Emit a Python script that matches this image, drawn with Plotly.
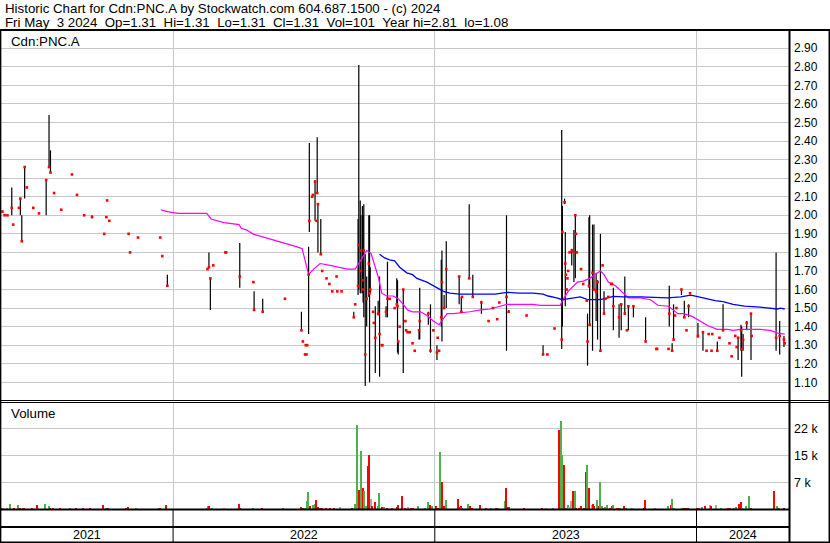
import plotly.graph_objects as go
import pandas as pd

# ---------------- data ----------------
x_range = ["2021-05-06", "2024-05-09"]
year_starts = ["2022-01-01", "2023-01-01", "2024-01-01"]
year_labels = ["2021", "2022", "2023", "2024"]

price_tickvals = [1.1, 1.2, 1.3, 1.4, 1.5, 1.6, 1.7, 1.8, 1.9, 2.0,
                  2.1, 2.2, 2.3, 2.4, 2.5, 2.6, 2.7, 2.8, 2.9]
price_ticktext = ["1.10", "1.20", "1.30", "1.40", "1.50", "1.60", "1.70", "1.80", "1.90", "2.00",
                  "2.10", "2.20", "2.30", "2.40", "2.50", "2.60", "2.70", "2.80", "2.90"]
vol_tickvals = [7333, 14667, 22000]
vol_ticktext = ["7 k", "15 k", "22 k"]

# days with a trading range (high / low / close)
bar_dates = [
    "2021-05-21", "2021-06-02", "2021-06-04", "2021-06-08", "2021-07-08", "2021-07-12", "2021-07-14", "2021-09-10", "2021-12-24",
    "2022-02-20", "2022-02-22", "2022-04-04", "2022-04-24", "2022-05-06", "2022-06-29", "2022-07-09", "2022-07-10",
    "2022-07-18", "2022-07-21", "2022-07-22", "2022-07-26", "2022-09-10", "2022-09-16", "2022-09-17", "2022-09-19",
    "2022-09-20", "2022-09-22", "2022-09-23", "2022-09-24", "2022-09-26", "2022-09-28", "2022-10-01", "2022-10-02",
    "2022-10-03", "2022-10-10", "2022-10-14", "2022-10-16", "2022-10-25", "2022-10-27", "2022-11-09", "2022-11-10",
    "2022-11-11", "2022-11-18", "2022-12-10", "2022-12-11", "2022-12-23", "2022-12-26",
    "2023-01-04", "2023-01-10", "2023-01-11", "2023-01-14", "2023-01-17", "2023-02-04", "2023-02-07", "2023-02-18",
    "2023-02-23", "2023-03-07", "2023-04-11", "2023-04-14", "2023-06-01", "2023-06-27", "2023-06-28", "2023-07-01",
    "2023-07-02", "2023-07-11", "2023-07-14", "2023-07-16", "2023-08-02", "2023-08-04", "2023-08-05", "2023-08-09",
    "2023-08-11", "2023-08-14", "2023-08-16", "2023-08-20", "2023-08-25", "2023-09-07", "2023-09-15", "2023-09-18",
    "2023-09-23", "2023-09-28", "2023-10-05", "2023-10-22", "2023-11-24", "2023-11-28", "2023-11-30", "2023-12-11",
    "2023-12-15", "2023-12-21",
    "2024-01-03", "2024-01-10", "2024-01-30", "2024-02-07", "2024-02-28", "2024-03-03", "2024-03-04", "2024-03-06",
    "2024-03-11", "2024-03-17", "2024-04-21", "2024-04-26", "2024-05-02",
]
bar_high = [
    2.15, 2.09, 2.00, 2.26, 2.19, 2.54, 2.35, 2.00, 1.68,
    1.80, 1.66, 1.85, 1.59, 1.55, 1.48, 1.83, 2.39,
    2.19, 2.42, 2.06, 1.98, 1.48, 1.98, 2.81, 2.08,
    2.00, 2.05, 2.00, 2.06, 1.79, 1.67, 2.00, 2.00,
    1.72, 1.51, 1.54, 1.67, 1.51, 1.75, 1.66, 1.65,
    1.32, 1.60, 1.38, 1.61, 1.48, 1.52,
    1.30, 1.76, 1.81, 1.57, 1.86, 1.67, 1.56, 2.06,
    1.68, 1.54, 2.00, 1.49, 1.30, 2.46, 2.05, 2.09,
    1.91, 1.82, 1.92, 2.00, 1.47, 1.99, 2.00, 1.95,
    1.95, 1.69, 1.65, 1.90, 1.59, 1.61, 1.52, 1.52,
    1.67, 1.51, 1.51, 1.45, 1.62, 1.31, 1.52, 1.60,
    1.54, 1.52,
    1.42, 1.37, 1.32, 1.52, 1.34, 1.41, 1.40, 1.36,
    1.43, 1.47, 1.80, 1.43, 1.35,
]
bar_low = [
    2.00, 2.00, 1.86, 2.09, 2.00, 2.26, 2.23, 1.99, 1.62,
    1.72, 1.49, 1.61, 1.49, 1.48, 1.38, 1.36, 1.91,
    1.97, 2.12, 1.80, 1.79, 1.45, 1.57, 1.60, 1.58,
    1.58, 1.58, 1.53, 1.45, 1.08, 1.40, 1.56, 1.10,
    1.58, 1.15, 1.46, 1.13, 1.45, 1.45, 1.52, 1.26,
    1.25, 1.15, 1.33, 1.33, 1.41, 1.26,
    1.22, 1.40, 1.32, 1.50, 1.50, 1.52, 1.48, 1.66,
    1.56, 1.47, 1.27, 1.48, 1.25, 1.28, 1.40, 2.06,
    1.51, 1.73, 1.64, 1.66, 1.19, 1.61, 1.41, 1.27,
    1.60, 1.43, 1.33, 1.27, 1.47, 1.38, 1.34, 1.38,
    1.47, 1.38, 1.45, 1.32, 1.40, 1.27, 1.33, 1.57,
    1.45, 1.45,
    1.34, 1.27, 1.27, 1.38, 1.22, 1.27, 1.13, 1.27,
    1.38, 1.22, 1.27, 1.25, 1.29,
]
bar_close = [
    2.04, 2.09, 1.86, 2.26, 2.19, 2.26, 2.23, 1.99, 1.62,
    1.72, 1.66, 1.67, 1.49, 1.48, 1.38, 1.68, 1.97,
    2.18, 2.12, 2.06, 1.79, 1.45, 1.62, 1.84, 1.81,
    1.70, 1.65, 1.60, 1.81, 1.25, 1.55, 1.74, 1.58,
    1.60, 1.34, 1.47, 1.36, 1.48, 1.55, 1.52, 1.51,
    1.32, 1.60, 1.38, 1.43, 1.47, 1.27,
    1.26, 1.45, 1.64, 1.50, 1.71, 1.67, 1.48, 1.66,
    1.56, 1.53, 1.56, 1.48, 1.25, 1.33, 1.91, 2.07,
    1.74, 1.81, 1.80, 2.00, 1.32, 1.62, 1.41, 1.69,
    1.60, 1.59, 1.64, 1.27, 1.47, 1.51, 1.45, 1.52,
    1.47, 1.51, 1.51, 1.32, 1.47, 1.27, 1.33, 1.60,
    1.45, 1.51,
    1.35, 1.37, 1.27, 1.38, 1.34, 1.38, 1.28, 1.33,
    1.42, 1.47, 1.34, 1.35, 1.33,
]

# days that traded at a single price
dot_dates = [
    "2021-05-08", "2021-05-11", "2021-05-15", "2021-05-23", "2021-05-31", "2021-06-11", "2021-06-20", "2021-06-28",
    "2021-07-19", "2021-07-29", "2021-08-13", "2021-08-20", "2021-08-30", "2021-09-27", "2021-09-30", "2021-10-01",
    "2021-10-04", "2021-10-31", "2021-11-02", "2021-11-13", "2021-12-14", "2021-12-17",
    "2022-02-18", "2022-02-26", "2022-03-15", "2022-03-16", "2022-04-23", "2022-06-06", "2022-07-01", "2022-07-04",
    "2022-07-05", "2022-07-06", "2022-07-07", "2022-07-14", "2022-07-15", "2022-07-20", "2022-07-28", "2022-08-03",
    "2022-08-07", "2022-08-11", "2022-08-17", "2022-08-18", "2022-08-24", "2022-09-12", "2022-10-07", "2022-10-08",
    "2022-10-19", "2022-10-20", "2022-10-30", "2022-11-06", "2022-11-13", "2022-11-21", "2022-11-22", "2022-11-24",
    "2022-11-27", "2022-12-01", "2022-12-04", "2022-12-30",
    "2023-01-05", "2023-01-07", "2023-02-08", "2023-03-17", "2023-03-23", "2023-03-29", "2023-04-01", "2023-05-09",
    "2023-06-07", "2023-06-17", "2023-07-03", "2023-07-04", "2023-07-05", "2023-07-06", "2023-07-08", "2023-07-12",
    "2023-07-17", "2023-07-18", "2023-07-24", "2023-07-27", "2023-08-01", "2023-08-23", "2023-08-27", "2023-08-31",
    "2023-09-04", "2023-09-05", "2023-09-26", "2023-11-06", "2023-11-07", "2023-11-23", "2023-12-02", "2023-12-04",
    "2023-12-18", "2023-12-23",
    "2024-01-15", "2024-01-18", "2024-01-22", "2024-01-23", "2024-02-02", "2024-02-16", "2024-02-19", "2024-02-24",
    "2024-02-26", "2024-03-18", "2024-05-03",
]
dot_price = [
    2.02, 2.00, 2.00, 1.95, 2.04, 2.15, 2.04, 2.01,
    2.12, 2.03, 2.22, 2.11, 2.00, 1.90, 1.99, 2.08,
    1.97, 1.90, 1.80, 1.88, 1.88, 1.78,
    1.71, 1.73, 1.80, 1.80, 1.64, 1.55, 1.32, 1.25,
    1.30, 1.25, 1.30, 2.10, 2.11, 1.97, 1.70, 1.66,
    1.63, 1.59, 1.67, 1.59, 1.59, 1.52, 1.48, 1.42,
    1.30, 1.30, 1.55, 1.50, 1.40, 1.43, 1.38, 1.37,
    1.37, 1.31, 1.27, 1.38,
    1.34, 1.27, 1.56, 1.43, 1.50, 1.44, 1.53, 1.46,
    1.25, 1.39, 1.68, 1.60, 1.66, 1.70, 1.80, 1.81,
    1.90, 1.80, 1.71, 1.63, 1.54, 1.73, 1.55, 1.56,
    1.63, 1.63, 1.38, 1.28, 1.28, 1.28, 1.46, 1.50,
    1.38, 1.58,
    1.27, 1.36, 1.27, 1.36, 1.34, 1.31, 1.24, 1.35,
    1.29, 1.35, 1.31,
]

# moving averages
ma_fast_dates = [
    "2021-12-15", "2021-12-24", "2022-01-08", "2022-02-05", "2022-02-17", "2022-02-23", "2022-03-03", "2022-03-13",
    "2022-04-03", "2022-04-06", "2022-04-14", "2022-04-22", "2022-04-30", "2022-05-09", "2022-05-19", "2022-05-30",
    "2022-06-23", "2022-06-30", "2022-07-04", "2022-07-09", "2022-07-16", "2022-07-25", "2022-08-08", "2022-08-22",
    "2022-09-01", "2022-09-12", "2022-09-17", "2022-09-23", "2022-09-28", "2022-10-04", "2022-10-10", "2022-10-14",
    "2022-10-19", "2022-10-26", "2022-11-04", "2022-11-11", "2022-11-18", "2022-11-24", "2022-12-01", "2022-12-12",
    "2022-12-21", "2022-12-30", "2023-01-07", "2023-01-13", "2023-01-18", "2023-01-27", "2023-02-09", "2023-02-19",
    "2023-03-06", "2023-03-19", "2023-04-02", "2023-04-12", "2023-05-18", "2023-05-28", "2023-06-25", "2023-06-28",
    "2023-07-06", "2023-07-19", "2023-07-27", "2023-08-05", "2023-08-12", "2023-08-20", "2023-08-25", "2023-08-31",
    "2023-09-10", "2023-09-19", "2023-09-28", "2023-10-15", "2023-10-29", "2023-11-08", "2023-11-23", "2023-12-06",
    "2023-12-14", "2023-12-26", "2024-01-06", "2024-01-17", "2024-01-30", "2024-02-13", "2024-02-21", "2024-03-02",
    "2024-03-30", "2024-04-13", "2024-04-23", "2024-05-03",
]
ma_fast_values = [
    2.03, 2.02, 2.01, 2.01, 2.01, 1.98, 1.97, 1.96,
    1.95, 1.93, 1.92, 1.90, 1.89, 1.88, 1.87, 1.86,
    1.83, 1.82, 1.75, 1.68, 1.71, 1.74, 1.73, 1.72,
    1.71, 1.71, 1.74, 1.78, 1.81, 1.795, 1.72, 1.67,
    1.58, 1.565, 1.565, 1.55, 1.52, 1.49, 1.48, 1.48,
    1.46, 1.43, 1.41, 1.44, 1.47, 1.47, 1.475, 1.48,
    1.49, 1.495, 1.51, 1.52, 1.52, 1.515, 1.515, 1.54,
    1.59, 1.64, 1.645, 1.66, 1.68, 1.70, 1.68, 1.64,
    1.62, 1.59, 1.555, 1.555, 1.545, 1.515, 1.51, 1.47,
    1.47, 1.455, 1.43, 1.405, 1.385, 1.385, 1.38, 1.385,
    1.385, 1.38, 1.365, 1.36,
]
ma_slow_dates = [
    "2022-10-16", "2022-10-23", "2022-10-30", "2022-11-06", "2022-11-13", "2022-11-23", "2022-12-01", "2022-12-07",
    "2022-12-21", "2022-12-28", "2023-01-04", "2023-01-13", "2023-01-22", "2023-02-05", "2023-03-26", "2023-04-02",
    "2023-04-12", "2023-04-28", "2023-05-18", "2023-06-01", "2023-06-08", "2023-06-20", "2023-06-28", "2023-07-05",
    "2023-07-13", "2023-07-23", "2023-08-02", "2023-08-20", "2023-09-07", "2023-09-21", "2023-10-15", "2023-11-08",
    "2023-11-22", "2023-12-10", "2023-12-24", "2024-01-04", "2024-01-16", "2024-01-27", "2024-02-07", "2024-02-21",
    "2024-03-08", "2024-03-30", "2024-04-23", "2024-04-27", "2024-05-03",
]
ma_slow_values = [
    1.79, 1.77, 1.76, 1.755, 1.72, 1.69, 1.68, 1.66,
    1.64, 1.625, 1.61, 1.59, 1.58, 1.575, 1.575, 1.58,
    1.585, 1.58, 1.58, 1.575, 1.565, 1.555, 1.545, 1.55,
    1.555, 1.56, 1.545, 1.545, 1.563, 1.56, 1.56, 1.555,
    1.555, 1.56, 1.57, 1.56, 1.55, 1.54, 1.535, 1.52,
    1.51, 1.505, 1.495, 1.50, 1.495,
]

# volume (dir: g = up, r = down, n = unchanged)
vol_dates = [
    "2021-05-07", "2021-05-09", "2021-05-14", "2021-05-19", "2021-05-24", "2021-05-30", "2021-06-02", "2021-06-06",
    "2021-06-08", "2021-06-19", "2021-06-25", "2021-07-07", "2021-07-12", "2021-07-13", "2021-07-18", "2021-07-27",
    "2021-08-11", "2021-08-19", "2021-08-28", "2021-09-08", "2021-09-25", "2021-09-30", "2021-10-02", "2021-10-28",
    "2021-10-31", "2021-11-11", "2021-12-11", "2021-12-14", "2021-12-22",
    "2022-02-17", "2022-02-19", "2022-02-21", "2022-02-24", "2022-03-13", "2022-04-03", "2022-04-04", "2022-04-23",
    "2022-05-05", "2022-06-04", "2022-06-28", "2022-07-01", "2022-07-04", "2022-07-07", "2022-07-09", "2022-07-11",
    "2022-07-15", "2022-07-18", "2022-07-20", "2022-07-22", "2022-07-25", "2022-07-28", "2022-08-03", "2022-08-08",
    "2022-08-14", "2022-08-22", "2022-09-08", "2022-09-12", "2022-09-15", "2022-09-17", "2022-09-18", "2022-09-21",
    "2022-09-23", "2022-09-25", "2022-09-28", "2022-09-30", "2022-10-01", "2022-10-04", "2022-10-06", "2022-10-10",
    "2022-10-14", "2022-10-16", "2022-10-19", "2022-10-23", "2022-10-27", "2022-11-02", "2022-11-09", "2022-11-11",
    "2022-11-17", "2022-11-21", "2022-11-25", "2022-11-29", "2022-12-02", "2022-12-09", "2022-12-19", "2022-12-23",
    "2022-12-25", "2022-12-28",
    "2023-01-03", "2023-01-06", "2023-01-08", "2023-01-11", "2023-01-14", "2023-01-17", "2023-02-02", "2023-02-05",
    "2023-02-07", "2023-02-08", "2023-02-16", "2023-02-20", "2023-02-22", "2023-03-05", "2023-03-14", "2023-03-21",
    "2023-03-27", "2023-03-30", "2023-04-09", "2023-04-11", "2023-04-13", "2023-04-15", "2023-05-06", "2023-05-31",
    "2023-06-05", "2023-06-15", "2023-06-24", "2023-06-26", "2023-06-28", "2023-06-30", "2023-07-01", "2023-07-03",
    "2023-07-06", "2023-07-08", "2023-07-10", "2023-07-13", "2023-07-16", "2023-07-17", "2023-07-21", "2023-07-24",
    "2023-07-29", "2023-07-31", "2023-08-02", "2023-08-04", "2023-08-05", "2023-08-09", "2023-08-10", "2023-08-12",
    "2023-08-16", "2023-08-18", "2023-08-20", "2023-08-22", "2023-08-24", "2023-08-26", "2023-08-29", "2023-09-03",
    "2023-09-05", "2023-09-07", "2023-09-12", "2023-09-14", "2023-09-16", "2023-09-22", "2023-09-25", "2023-10-03",
    "2023-10-20", "2023-10-21", "2023-11-05", "2023-11-22", "2023-11-27", "2023-11-28", "2023-12-01", "2023-12-12",
    "2023-12-15", "2023-12-18", "2023-12-21",
    "2024-01-02", "2024-01-05", "2024-01-09", "2024-01-13", "2024-01-20", "2024-01-21", "2024-01-29", "2024-02-05",
    "2024-02-14", "2024-02-17", "2024-02-22", "2024-02-26", "2024-03-01", "2024-03-03", "2024-03-05", "2024-03-10",
    "2024-03-15", "2024-03-17", "2024-04-19", "2024-04-22", "2024-04-25", "2024-05-02", "2024-05-03",
]
vol_values = [
    500, 500, 500, 1450, 500, 1100, 500, 500,
    350, 500, 1100, 1600, 900, 300, 300, 500,
    350, 350, 350, 500, 1100, 500, 350, 500,
    700, 350, 300, 350, 1100,
    500, 900, 900, 300, 500, 1600, 500, 300,
    350, 350, 700, 500, 500, 2260, 4700, 900,
    1100, 1600, 2500, 700, 500, 300, 350, 350,
    500, 700, 500, 1600, 23200, 3800, 5400, 16100,
    6000, 5000, 900, 11800, 15000, 2900, 900, 2000,
    900, 4500, 700, 700, 350, 500, 700, 1100,
    3600, 450, 700, 350, 450, 900, 350, 2000,
    1100, 900,
    900, 350, 15800, 7400, 900, 2500, 2800, 700,
    900, 300, 1500, 900, 350, 1200, 350, 500,
    350, 350, 2350, 5800, 600, 600, 350, 500,
    300, 350, 21800, 24300, 14900, 12300, 1200, 500,
    1100, 700, 2260, 5000, 5000, 450, 450, 900,
    500, 10400, 12200, 5800, 3400, 1100, 1600, 900,
    2500, 900, 7400, 900, 500, 700, 1100, 500,
    900, 1100, 500, 500, 500, 900, 500, 500,
    500, 2700, 500, 900, 1100, 3000, 350, 500,
    500, 350, 350,
    500, 350, 650, 900, 1300, 900, 1350, 350,
    500, 350, 500, 700, 1600, 2170, 500, 900,
    3600, 500, 5200, 900, 500, 500, 300,
]
vol_dir = [
    "r", "n", "n", "g", "r", "g", "r", "g",
    "r", "r", "r", "g", "g", "r", "r", "r",
    "g", "r", "r", "r", "r", "g", "r", "r",
    "r", "g", "n", "r", "r",
    "g", "g", "r", "g", "n", "r", "r", "g",
    "r", "g", "r", "r", "g", "g", "g", "r",
    "g", "g", "r", "r", "r", "r", "r", "r",
    "r", "n", "r", "g", "g", "r", "r", "g",
    "r", "g", "g", "r", "r", "n", "r", "r",
    "g", "g", "r", "g", "r", "r", "r", "r",
    "r", "r", "n", "r", "r", "g", "g", "g",
    "r", "g",
    "r", "r", "g", "r", "r", "g", "r", "r",
    "r", "g", "g", "r", "r", "r", "r", "g",
    "r", "g", "g", "r", "r", "r", "r", "r",
    "n", "g", "r", "g", "g", "r", "r", "g",
    "g", "n", "n", "r", "g", "r", "r", "r",
    "r", "r", "g", "r", "r", "n", "r", "r",
    "g", "r", "g", "g", "r", "g", "g", "r",
    "r", "g", "r", "r", "g", "r", "g", "g",
    "r", "r", "n", "g", "r", "g", "g", "g",
    "r", "r", "r",
    "r", "r", "g", "r", "n", "r", "n", "g",
    "r", "r", "g", "g", "r", "r", "g", "g",
    "g", "r", "r", "g", "g", "r", "r",
]

assert len(bar_dates) == len(bar_high) == len(bar_low) == len(bar_close)
assert len(dot_dates) == len(dot_price)
assert len(ma_fast_dates) == len(ma_fast_values)
assert len(ma_slow_dates) == len(ma_slow_values)
assert len(vol_dates) == len(vol_values) == len(vol_dir)

# ---------------- layout geometry ----------------
W, H = 830, 543
ML, MR, MT, MB = 1, 41, 31, 0
PW = W - ML - MR
PH = H - MT - MB


def xp(px):
    return (px - ML) / PW


def yp(py):
    return (H - MB - py) / PH


FONT = "Liberation Sans, Arial, sans-serif"
GRID = "#c8c8c8"
dir_colors = {"g": "#4cb34c", "r": "#ff0000", "n": "#a8a8a8"}

fig = go.Figure()

# volume bars
fig.add_trace(go.Bar(
    x=vol_dates, y=vol_values, xaxis="x", yaxis="y2",
    marker=dict(color=[dir_colors[d] for d in vol_dir], line=dict(width=0)),
    width=2 * 86400000, hoverinfo="skip",
))

# high-low ranges
seg_x, seg_y = [], []
for d, hi, lo in zip(bar_dates, bar_high, bar_low):
    seg_x += [d, d, None]
    seg_y += [lo, hi, None]
fig.add_trace(go.Scatter(x=seg_x, y=seg_y, mode="lines", xaxis="x", yaxis="y",
                         line=dict(color="#000000", width=1.2), hoverinfo="skip"))

# moving averages
fig.add_trace(go.Scatter(x=ma_fast_dates, y=ma_fast_values, mode="lines", xaxis="x", yaxis="y",
                         line=dict(color="#ff00ff", width=1.2), hoverinfo="skip"))
fig.add_trace(go.Scatter(x=ma_slow_dates, y=ma_slow_values, mode="lines", xaxis="x", yaxis="y",
                         line=dict(color="#0000ff", width=1.3), hoverinfo="skip"))

# closes
fig.add_trace(go.Scatter(x=bar_dates + dot_dates, y=bar_close + dot_price, mode="markers",
                         xaxis="x", yaxis="y",
                         marker=dict(symbol="square", size=2.6, color="#ff0000", line=dict(width=0)),
                         hoverinfo="skip"))

fig.update_layout(
    width=W, height=H,
    margin=dict(l=ML, r=MR, t=MT, b=MB, pad=0, autoexpand=False),
    paper_bgcolor="#ffffff", plot_bgcolor="#ffffff",
    showlegend=False, bargap=0,
    font=dict(family=FONT, size=12, color="#000000"),
    xaxis=dict(type="date", range=x_range, domain=[0, 1], anchor="y2", automargin=False,
               tickvals=year_starts, showticklabels=False, ticks="",
               showgrid=True, gridcolor=GRID, gridwidth=1, zeroline=False, showline=False),
    yaxis=dict(domain=[yp(400), 1], range=[1.0046, 2.993], side="right", anchor="x", automargin=False,
               tickvals=price_tickvals, ticktext=price_ticktext, ticks="",
               showgrid=True, gridcolor=GRID, gridwidth=1, zeroline=False, showline=False,
               tickfont=dict(family=FONT, size=12, color="#000000"), ticklabelstandoff=4),
    yaxis2=dict(domain=[yp(509), yp(402.5)], range=[0, 29170], side="right", anchor="x", automargin=False,
                tickvals=vol_tickvals, ticktext=vol_ticktext, ticks="",
                showgrid=True, gridcolor=GRID, gridwidth=1, zeroline=False, showline=False,
                tickfont=dict(family=FONT, size=12.5, color="#000000"), ticklabelstandoff=4),
)

shapes = []


def hline(py, x0, x1, w):
    shapes.append(dict(type="line", xref="paper", yref="paper", x0=xp(x0), x1=xp(x1),
                       y0=yp(py), y1=yp(py), line=dict(color="#000000", width=w), layer="above"))


def vline(px, y0, y1, w):
    shapes.append(dict(type="line", xref="paper", yref="paper", x0=xp(px), x1=xp(px),
                       y0=yp(y0), y1=yp(y1), line=dict(color="#000000", width=w), layer="above"))


hline(30, -2, 832, 2)        # under header
hline(400.5, -2, 832, 1)     # double separator
hline(402.5, -2, 832, 1)
hline(509.5, -2, 789.5, 2)   # bottom of volume panel
hline(527, -2, 789.5, 2)     # between bands
hline(542.3, -2, 832, 1.6)   # bottom frame
vline(0.6, 29, 544, 1.5)     # left frame
vline(789.5, 29, 544, 2)     # right of plot
vline(829.3, 29, 544, 1.5)   # outer right frame

# year dividers in the date band
for ys in year_starts:
    shapes.append(dict(type="line", xref="x", yref="paper", x0=ys, x1=ys,
                       y0=yp(543), y1=yp(509.5), line=dict(color="#000000", width=1), layer="above"))

fig.update_layout(shapes=shapes)

# annotations
sp = "\u00a0\u00a0"
header1 = "Historic Chart for Cdn:PNC.A by Stockwatch.com 604.687.1500 - (c) 2024"
header2 = ("Fri May" + sp + "3 2024" + sp + "Op=1.31" + sp + "Hi=1.31" + sp + "Lo=1.31" + sp +
           "Cl=1.31" + sp + "Vol=101" + sp + "Year hi=2.81" + sp + "lo=1.08")
ann = [
    dict(text=header1, x=xp(3), y=yp(8), xanchor="left", yanchor="middle"),
    dict(text=header2, x=xp(3), y=yp(22.5), xanchor="left", yanchor="middle"),
    dict(text="Cdn:PNC.A", x=xp(9), y=yp(41.5), xanchor="left", yanchor="middle"),
    dict(text="Volume", x=xp(9), y=yp(413), xanchor="left", yanchor="middle"),
]
for a in ann:
    a.update(xref="paper", yref="paper", showarrow=False,
             font=dict(family=FONT, size=13.3, color="#000000"))

bounds = [pd.Timestamp(x_range[0])] + [pd.Timestamp(s) for s in year_starts] + [pd.Timestamp(x_range[1])]
for lab, a, b in zip(year_labels, bounds[:-1], bounds[1:]):
    mid = a + (b - a) / 2
    ann.append(dict(text=lab, x=mid.strftime("%Y-%m-%d %H:%M"), y=yp(535), xref="x", yref="paper",
                    xanchor="center", yanchor="middle", showarrow=False,
                    font=dict(family=FONT, size=12.5, color="#000000")))

fig.update_layout(annotations=ann)

fig.write_html("out.html", config={"displayModeBar": False})

# remove the browser's default page margin so the figure sits at the window origin
with open("out.html", "r", encoding="utf-8") as f:
    html = f.read()
html = html.replace("<head>", "<head><style>html,body{margin:0;padding:0;overflow:hidden;}</style>", 1)
with open("out.html", "w", encoding="utf-8") as f:
    f.write(html)
